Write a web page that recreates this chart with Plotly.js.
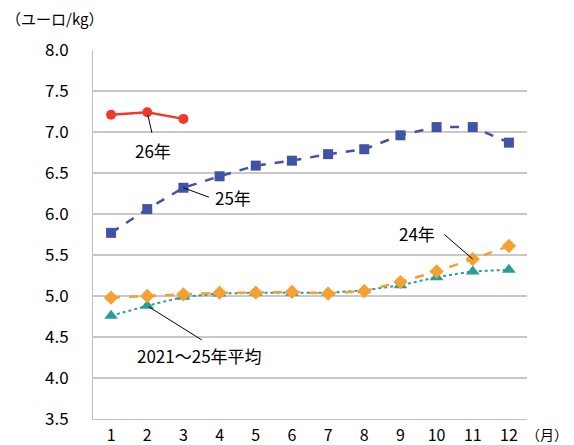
<!DOCTYPE html>
<html><head><meta charset="utf-8">
<script src="https://cdn.plot.ly/plotly-3.0.1.min.js"></script>
<style>body{margin:0;background:#fff}#c{width:574px;height:445px}</style>
</head><body><div id="c"></div>
<script>
const months = [1,2,3,4,5,6,7,8,9,10,11,12];
const tickLabels = ["1","2","3","4","5","6","7","8","9","10","11","12"];
const y26 = [7.21, 7.24, 7.16];
const y25 = [5.77, 6.06, 6.32, 6.46, 6.59, 6.65, 6.73, 6.79, 6.96, 7.06, 7.06, 6.87];
const y24 = [4.98, 5.00, 5.02, 5.04, 5.04, 5.05, 5.03, 5.06, 5.17, 5.30, 5.45, 5.61];
const yAvg = [4.76, 4.88, 4.99, 5.03, 5.04, 5.04, 5.04, 5.07, 5.13, 5.23, 5.30, 5.32];

const FONT = "'Noto Sans CJK JP','Noto Sans',sans-serif";
const traces = [
  {x: months, y: yAvg, mode:'lines+markers', line:{color:'#2a9d9a', width:2, dash:'dot'},
   marker:{symbol:'triangle-up', size:12, color:'#2a9d9a'}},
  {x: months, y: y24, mode:'lines+markers', line:{color:'#f5a031', width:2.5, dash:'dash'},
   marker:{symbol:'diamond', size:11, color:'#f5a031'}},
  {x: months, y: y25, mode:'lines+markers', line:{color:'#4153a6', width:2.5, dash:'dash'},
   marker:{symbol:'square', size:10, color:'#4153a6'}},
  {x: months.slice(0, y26.length), y: y26, mode:'lines+markers', line:{color:'#ee3a2b', width:2.5},
   marker:{symbol:'circle', size:10, color:'#ee3a2b'}}
];
const ann = [
  {x:2, y:y26[1], text:'', showarrow:true, arrowhead:0, arrowwidth:1, arrowcolor:'#000', ax:5, ay:22, standoff:3},
  {x:2, y:y26[1], text:'26年', showarrow:false, xshift:6, yshift:-38, font:{size:17}},
  {x:3, y:y25[2], text:'', showarrow:true, arrowhead:0, arrowwidth:1, arrowcolor:'#000', ax:27, ay:10},
  {x:3, y:y25[2], text:'25年', showarrow:false, xshift:50, yshift:-10, font:{size:17}},
  {x:11, y:y24[10], text:'', showarrow:true, arrowhead:0, arrowwidth:1, arrowcolor:'#000', ax:-30, ay:-26},
  {x:11, y:y24[10], text:'24年', showarrow:false, xshift:-56, yshift:26, font:{size:17}},
  {x:2, y:yAvg[1], text:'', showarrow:true, arrowhead:0, arrowwidth:1, arrowcolor:'#000', ax:56, ay:35, standoff:2},
  {x:2, y:yAvg[1], text:'2021～25年平均', showarrow:false, xshift:52, yshift:-50, font:{size:17}},
  {xref:'paper', yref:'paper', x:-0.205, y:1.086, xanchor:'left', yanchor:'middle', text:'（ユーロ/kg）', showarrow:false, font:{size:15}},
  {xref:'paper', yref:'paper', x:1.1, y:-0.04, xanchor:'right', yanchor:'middle', text:'（月）', showarrow:false, font:{size:14}}
];
const layout = {
  width:574, height:445,
  margin:{l:93, r:47, t:50, b:26},
  paper_bgcolor:'#fff', plot_bgcolor:'#fff',
  showlegend:false,
  font:{family:FONT, size:17, color:'#000'},
  xaxis:{range:[0.5,12.5], tickvals:months, ticktext:tickLabels, showgrid:false, zeroline:false,
         showline:true, linecolor:'#bfbfbf', linewidth:1, ticks:'', tickfont:{size:16}, ticklabelstandoff:2},
  yaxis:{range:[3.5,8.0], dtick:0.5, tickformat:'.1f', showgrid:true, gridcolor:'#c8c8c8', gridwidth:1.5,
         zeroline:false, showline:true, linecolor:'#bfbfbf', linewidth:1, ticks:'', tickfont:{size:17},
         ticklabelstandoff:20},
  annotations: ann
};
Plotly.newPlot('c', traces, layout, {displayModeBar:false, staticPlot:true});
</script></body></html>
